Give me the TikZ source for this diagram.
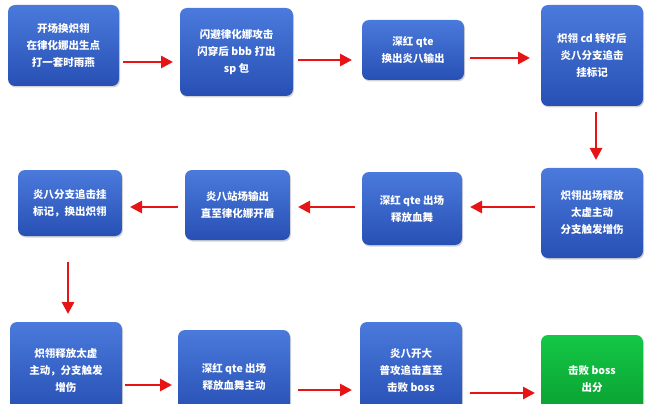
\documentclass[tikz,border=0pt]{standalone}
\usepackage{fontspec}
\setmainfont{Noto Sans CJK SC}
\usetikzlibrary{arrows.meta,shadows}
\definecolor{bluetop}{RGB}{74,122,220}
\definecolor{bluebot}{RGB}{40,80,180}
\definecolor{greentop}{RGB}{20,200,70}
\definecolor{greenbot}{RGB}{10,160,50}
\definecolor{arr}{RGB}{230,20,20}
\tikzset{
 stepbox/.style={rounded corners=7pt,top color=bluetop,bottom color=bluebot,draw=none,
   drop shadow={shadow xshift=1pt,shadow yshift=-1.5pt,opacity=0.35},
   inner sep=0pt},
 greenbox/.style={stepbox,top color=greentop,bottom color=greenbot},
 flow/.style={draw=arr,line width=2.8pt,-{Triangle[length=12pt,width=12pt]}},
 t/.style={text=white,font=\bfseries\fontsize{10.5}{17}\selectfont,align=center}
}
\begin{document}
\begin{tikzpicture}[x=1pt,y=-1pt]
\useasboundingbox (0,0) rectangle (657,404);
\newcommand{\bx}[6]{\node[#6,minimum width=#4-#2,minimum height=#5-#3] (#1) at ({(#2+#4)/2},{(#3+#5)/2}) {};}
\bx{b1}{8}{5}{119}{86}{stepbox}
\bx{b2}{180}{8}{293}{96}{stepbox}
\bx{b3}{362}{20}{464}{80}{stepbox}
\bx{b4}{541}{5}{643}{106}{stepbox}
\bx{b5}{541}{168}{643}{258}{stepbox}
\bx{b6}{362}{172}{462}{245}{stepbox}
\bx{b7}{185}{170}{290}{240}{stepbox}
\bx{b8}{18}{170}{122}{236}{stepbox}
\bx{b9}{10}{322}{122}{412}{stepbox}
\bx{b10}{178}{330}{290}{412}{stepbox}
\bx{b11}{360}{322}{462}{412}{stepbox}
\bx{b12}{541}{335}{643}{412}{greenbox}
\node[t] at (b1) {开场换炽翎\\在律化娜出生点\\打一套时雨燕};
\node[t] at (b2) {闪避律化娜攻击\\闪穿后 bbb 打出\\sp 包};
\node[t] at (b3) {深红 qte\\换出炎八输出};
\node[t] at (b4) {炽翎 cd 转好后\\炎八分支追击\\挂标记};
\node[t] at (b5) {炽翎出场释放\\太虚主动\\分支触发增伤};
\node[t] at (b6) {深红 qte 出场\\释放血舞};
\node[t] at (b7) {炎八站场输出\\直至律化娜开盾};
\node[t] at (b8) {炎八分支追击挂\\标记，换出炽翎};
\node[t] at ([yshift=-4]b9) {炽翎释放太虚\\主动，分支触发\\增伤};
\node[t] at ([yshift=-6]b10) {深红 qte 出场\\释放血舞主动};
\node[t] at ([yshift=-4]b11) {炎八开大\\普攻追击直至\\击败 boss};
\node[t] at ([yshift=-6]b12) {击败 boss\\出分};
\coordinate (a1s) at (123,62); \coordinate (a1e) at (173,62);
\draw[flow] (a1s) -- (a1e);
\draw[flow] (298,60) -- (352,60);
\draw[flow] (470,58) -- (530,58);
\draw[flow] (596,112) -- (596,160);
\draw[flow] (535,207) -- (470,207);
\draw[flow] (355,207) -- (298,207);
\draw[flow] (178,207) -- (130,207);
\draw[flow] (68,262) -- (68,314);
\draw[flow] (125,385) -- (172,385);
\draw[flow] (298,390) -- (352,390);
\draw[flow] (470,393) -- (535,393);
\end{tikzpicture}
\end{document}
